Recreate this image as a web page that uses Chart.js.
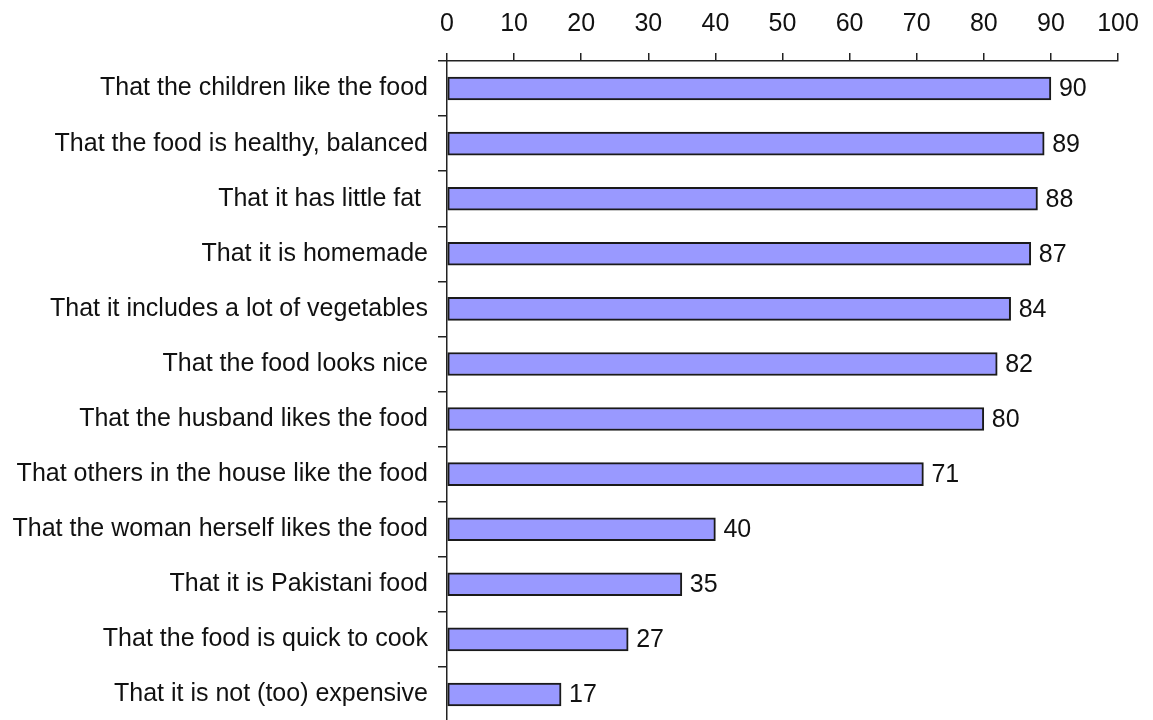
<!DOCTYPE html>
<html>
<head>
<meta charset="utf-8">
<title>What matters when choosing food</title>
<script src="https://cdn.jsdelivr.net/npm/chart.js@4.4.1/dist/chart.umd.min.js"></script>
<style>
  html, body { margin: 0; padding: 0; background: #fff; overflow: hidden; height: 720px; }
  canvas { display: block; }
</style>
</head>
<body>
<!-- the lower axis labels padding falls below the window, so the plot reaches the bottom edge -->
<canvas id="foodChart" width="1153" height="747"></canvas>
<script>
const reasons = [
    'That the children like the food',
    'That the food is healthy, balanced',
    'That it has little fat ',
    'That it is homemade',
    'That it includes a lot of vegetables',
    'That the food looks nice',
    'That the husband likes the food',
    'That others in the house like the food',
    'That the woman herself likes the food',
    'That it is Pakistani food',
    'That the food is quick to cook',
    'That it is not (too) expensive'
];

const shares = [90, 89, 88, 87, 84, 82, 80, 71, 40, 35, 27, 17];

const axisMin = 0;
const axisMax = 100;
const axisStep = 10;

const FONT = '"Liberation Sans", Arial, sans-serif';

// numbers just to the right of each bar
const valueLabels = {
    id: 'valueLabels',
    afterDatasetsDraw(chart) {
        const ctx = chart.ctx;
        const meta = chart.getDatasetMeta(0);
        ctx.save();
        ctx.font = '25px ' + FONT;
        ctx.fillStyle = '#111';
        ctx.textAlign = 'left';
        ctx.textBaseline = 'middle';
        meta.data.forEach((bar, i) => {
            ctx.fillText(String(shares[i]), bar.x + 8, bar.y + 1);
        });
        ctx.restore();
    }
};

const data = {
    labels: reasons,
    datasets: [{
        data: shares,
        backgroundColor: '#9999ff',
        borderColor: '#1a1a1a',
        borderWidth: 2,
        borderSkipped: false,
        barThickness: 23
    }]
};

const config = {
    type: 'bar',
    data: data,
    options: {
        indexAxis: 'y',
        responsive: false,
        animation: false,
        layout: { padding: { left: 0, right: 35, top: 0, bottom: 0 } },
        plugins: {
            legend: { display: false },
            tooltip: { enabled: false }
        },
        scales: {
            x: {
                position: 'top',
                min: axisMin,
                max: axisMax,
                afterFit(scale) { scale.height = 61; },
                ticks: {
                    stepSize: axisStep,
                    color: '#111',
                    padding: 14,
                    font: { family: FONT, size: 25 }
                },
                grid: {
                    drawOnChartArea: false,
                    drawTicks: true,
                    tickLength: 8,
                    color: '#222',
                    lineWidth: 1.5
                },
                border: { color: '#222', width: 1.5 }
            },
            y: {
                afterFit(scale) { scale.width = 447; },
                ticks: {
                    color: '#111',
                    padding: 10,
                    font: { family: FONT, size: 25 }
                },
                grid: {
                    offset: true,
                    drawOnChartArea: false,
                    drawTicks: true,
                    tickLength: 9,
                    color: '#222',
                    lineWidth: 1.5
                },
                border: { color: '#222', width: 1.5 }
            }
        }
    },
    plugins: [valueLabels]
};

// eslint-disable-next-line
const foodChart = new Chart(
    document.getElementById('foodChart'),
    config
);
</script>
</body>
</html>
